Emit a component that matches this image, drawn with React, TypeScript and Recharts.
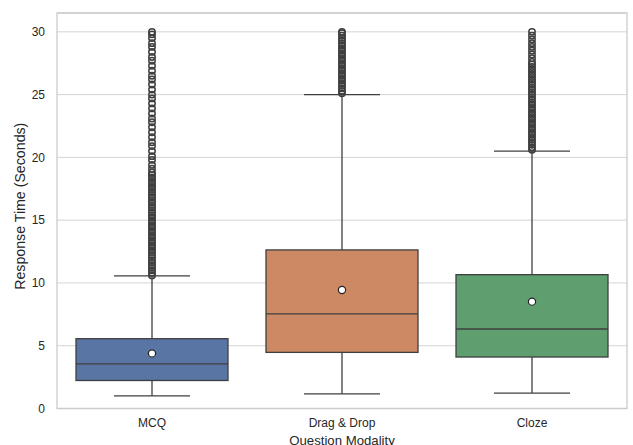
import React from 'react';
import {
  ComposedChart, Bar, Scatter, XAxis, YAxis, CartesianGrid, ReferenceArea, Label,
} from 'recharts';

const categories = ['MCQ', 'Drag & Drop', 'Cloze'];
const whiskerLow = [1.0, 1.17, 1.23];
const q1 = [2.23, 4.47, 4.1];
const median = [3.56, 7.53, 6.33];
const q3 = [5.56, 12.63, 10.66];
const whiskerHigh = [10.56, 25.0, 20.5];
const means = [4.39, 9.44, 8.51];

const mcqOutliers = [
  10.6, 10.8, 11.0, 11.2, 11.4, 11.6, 11.8, 12.0, 12.2, 12.4, 12.6, 12.8, 13.0, 13.2,
  13.4, 13.6, 13.8, 14.0, 14.2, 14.4, 14.6, 14.8, 15.0, 15.2, 15.4, 15.6, 15.8, 16.0,
  16.2, 16.4, 16.6, 16.8, 17.0, 17.2, 17.4, 17.6, 17.8, 18.0, 18.2, 18.4, 18.6, 18.8,
  19.1, 19.4, 19.8, 20.1, 20.5, 20.9, 21.2, 21.6, 22.0, 22.4, 22.8, 23.1, 23.5, 23.9,
  24.3, 24.7, 25.0, 25.4, 25.8, 26.2, 26.5, 26.9, 27.3, 27.7, 28.0, 28.4, 28.8, 29.1,
  29.5, 29.8, 30.0,
];
const dragOutliers = [
  25.1, 25.3, 25.5, 25.7, 25.9, 26.1, 26.3, 26.5, 26.7, 26.9, 27.1, 27.3, 27.5, 27.7,
  27.9, 28.1, 28.3, 28.5, 28.7, 28.9, 29.1, 29.3, 29.5, 29.7, 29.9, 30.0,
];
const clozeOutliers = [
  20.6, 20.8, 21.0, 21.2, 21.4, 21.6, 21.8, 22.0, 22.2, 22.4, 22.6, 22.8, 23.0, 23.2,
  23.4, 23.6, 23.8, 24.0, 24.2, 24.4, 24.6, 24.8, 25.0, 25.2, 25.4, 25.6, 25.8, 26.0,
  26.2, 26.4, 26.6, 26.8, 27.0, 27.2, 27.4, 27.6, 27.9, 28.2, 28.5, 28.8, 29.1, 29.4,
  29.7, 30.0,
];
const outlierLists = [mcqOutliers, dragOutliers, clozeOutliers];
const yTicks = [0, 5, 10, 15, 20, 25, 30];

const COLORS = ['#5875A4', '#CC8963', '#5F9E6E'];
const LINE = '#3f3f3f';
const TEXT = '#262626';
const FONT = '"Liberation Sans", Arial, sans-serif';

const boxData = categories.map((name, i) => ({
  name,
  lo: whiskerLow[i],
  q1: q1[i],
  med: median[i],
  q3: q3[i],
  hi: whiskerHigh[i],
  mean: means[i],
}));

const outlierRows = categories.flatMap((name, i) =>
  outlierLists[i].map((v) => ({ name, value: v }))
);

const BoxShape = (props: any) => {
  const { x, y, width, height, payload, index } = props;
  if (x == null || y == null) return null;
  const top = Math.min(y, y + height);
  const bottom = Math.max(y, y + height);
  const { lo, hi } = payload;
  const unit = (bottom - top) / (hi - lo);
  const py = (v: number) => bottom - (v - lo) * unit;
  const cx = x + width / 2;
  const capHalf = width / 4;
  const yq1 = py(payload.q1);
  const yq3 = py(payload.q3);
  const ymed = py(payload.med);
  const sw = 1.3;
  return (
    <g>
      <line x1={cx} x2={cx} y1={py(hi)} y2={yq3} stroke={LINE} strokeWidth={sw} />
      <line x1={cx} x2={cx} y1={yq1} y2={py(lo)} stroke={LINE} strokeWidth={sw} />
      <line x1={cx - capHalf} x2={cx + capHalf} y1={py(hi)} y2={py(hi)} stroke={LINE} strokeWidth={sw} />
      <line x1={cx - capHalf} x2={cx + capHalf} y1={py(lo)} y2={py(lo)} stroke={LINE} strokeWidth={sw} />
      <rect x={x} y={yq3} width={width} height={yq1 - yq3} fill={COLORS[index % COLORS.length]} stroke={LINE} strokeWidth={sw} />
      <line x1={x} x2={x + width} y1={ymed} y2={ymed} stroke={LINE} strokeWidth={sw} />
    </g>
  );
};

const MeanShape = (props: any) => {
  const { cx, cy } = props;
  if (cx == null || cy == null) return null;
  return <circle cx={cx} cy={cy} r={3.6} fill="#ffffff" stroke="#222" strokeWidth={1.2} />;
};

const FlierShape = (props: any) => {
  const { cx, cy } = props;
  if (cx == null || cy == null) return null;
  return <circle cx={cx} cy={cy} r={3.2} fill="none" stroke={LINE} strokeWidth={1.5} />;
};

const XLabel = (props: any) => {
  const vb = props.viewBox || {};
  return (
    <text
      x={vb.x + vb.width / 2}
      y={vb.y + 36}
      textAnchor="middle"
      fill={TEXT}
      fontSize={13.2}
      fontFamily={FONT}
    >
      Question Modality
    </text>
  );
};

const YLabel = (props: any) => {
  const vb = props.viewBox || {};
  const x = vb.x + 24.8;
  const y = vb.y + vb.height / 2 - 4.5;
  return (
    <text
      x={x}
      y={y}
      transform={`rotate(-90 ${x} ${y})`}
      textAnchor="middle"
      fill={TEXT}
      fontSize={14.2}
      fontFamily={FONT}
    >
      Response Time (Seconds)
    </text>
  );
};

export default function App() {
  return (
    <div style={{ position: 'absolute', left: 0, top: 0, width: 633, height: 445, background: '#fff' }}>
      <ComposedChart
        width={633}
        height={445}
        data={boxData}
        margin={{ top: 13, right: 6, left: 0, bottom: 0 }}
        barCategoryGap="10%"
      >
        <CartesianGrid vertical={false} stroke="#d4d4d4" strokeWidth={1} />
        <XAxis
          dataKey="name"
          type="category"
          allowDuplicatedCategory={false}
          height={36.5}
          tickLine={false}
          axisLine={false}
          tickSize={0}
          tickMargin={10}
          tick={{ fill: TEXT, fontSize: 12, fontFamily: FONT }}
        >
          <Label content={<XLabel />} />
        </XAxis>
        <YAxis
          type="number"
          domain={[0, 31.5]}
          ticks={yTicks}
          width={57}
          tickLine={false}
          axisLine={false}
          tickSize={0}
          tickMargin={12}
          allowDataOverflow
          tick={{ fill: TEXT, fontSize: 12, fontFamily: FONT }}
        >
          <Label content={<YLabel />} />
        </YAxis>
        <ReferenceArea
          x1="MCQ"
          x2="Cloze"
          y1={0}
          y2={31.5}
          fill="none"
          stroke="#cccccc"
          strokeWidth={1.3}
          ifOverflow="visible"
        />
        <Bar
          dataKey={(d: any) => [d.lo, d.hi]}
          shape={<BoxShape />}
          isAnimationActive={false}
        />
        <Scatter
          data={outlierRows}
          dataKey="value"
          shape={<FlierShape />}
          isAnimationActive={false}
        />
        <Scatter dataKey="mean" shape={<MeanShape />} isAnimationActive={false} />
      </ComposedChart>
    </div>
  );
}
